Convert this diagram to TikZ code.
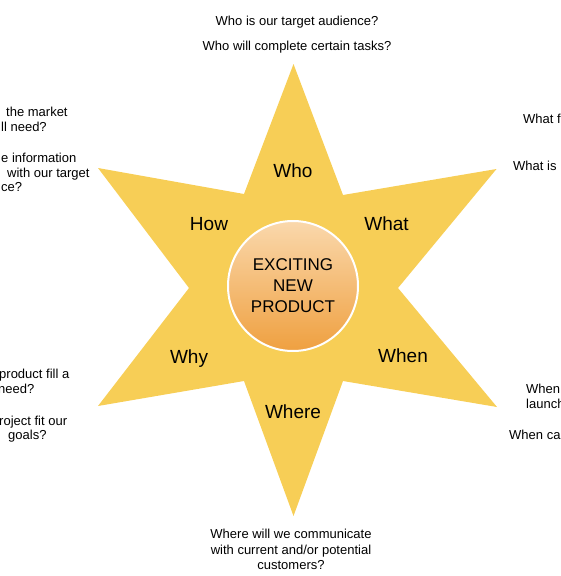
\documentclass[tikz,border=0pt]{standalone}
\usepackage{fontspec}
\setmainfont{Liberation Sans}
\definecolor{stary}{RGB}{247,206,86}
\definecolor{ctop}{RGB}{250,216,172}
\definecolor{cbot}{RGB}{239,160,64}
\begin{document}
\begin{tikzpicture}[x=1pt,y=-1pt,
  q/.style={font=\fontsize{13}{15.5}\selectfont, inner sep=0pt},
  qw/.style={q, anchor=base west},
  lbl/.style={font=\fontsize{19}{22}\selectfont, inner sep=0pt, anchor=base}]
\useasboundingbox (0,0) rectangle (560,576);
\clip (0,0) rectangle (560,576);
% star
\fill[stary] (293.5,64) -- (343,195) -- (496.5,169) -- (398,288) -- (497,407)
  -- (343,381) -- (293.5,516) -- (244,381) -- (98,406) -- (189,288)
  -- (98,168) -- (244,194) -- cycle;
% centre
\node[circle, minimum size=130pt, draw=white, line width=2pt,
  top color=ctop, bottom color=cbot, align=center, inner sep=0pt,
  font=\fontsize{17}{21}\selectfont] (core) at (293,286) {EXCITING\\NEW\\PRODUCT};
% labels
\node[lbl] (who) at (293,177) {Who};
\node[lbl] (how) at (209,230) {How};
\node[lbl] (what) at (386.5,230) {What};
\node[lbl] (why) at (189,363) {Why};
\node[lbl] (when) at (403,362) {When};
\node[lbl] (where) at (293,418) {Where};
% questions
\node[q, anchor=base] (qt1) at (297,25) {Who is our target audience?};
\node[q, anchor=base] (qt2) at (297,50) {Who will complete certain tasks?};
\node[q, anchor=north, align=center] (qb) at (291,529) {Where will we communicate\\with current and/or potential\\customers?};
\node[qw] (ql1) at (6,116) {the market};
\node[qw] (ql2) at (1,131) {ll need?};
\node[qw] (ql3) at (1,162) {e information};
\node[qw] (ql4) at (7,177) {with our target};
\node[qw] (ql5) at (1,191) {ce?};
\node[qw] (ql6) at (-1,378) {product fill a};
\node[qw] (ql7) at (-2,393) {need?};
\node[qw] (ql8) at (-1,425) {roject fit our};
\node[qw] (ql9) at (8,439) {goals?};
\node[qw] (qr1) at (523,123) {What f};
\node[qw] (qr2) at (513,170) {What is};
\node[qw] (qr3) at (526,393) {When};
\node[qw] (qr4) at (526,408) {launch};
\node[qw] (qr5) at (509,439) {When ca};
\end{tikzpicture}
\end{document}
